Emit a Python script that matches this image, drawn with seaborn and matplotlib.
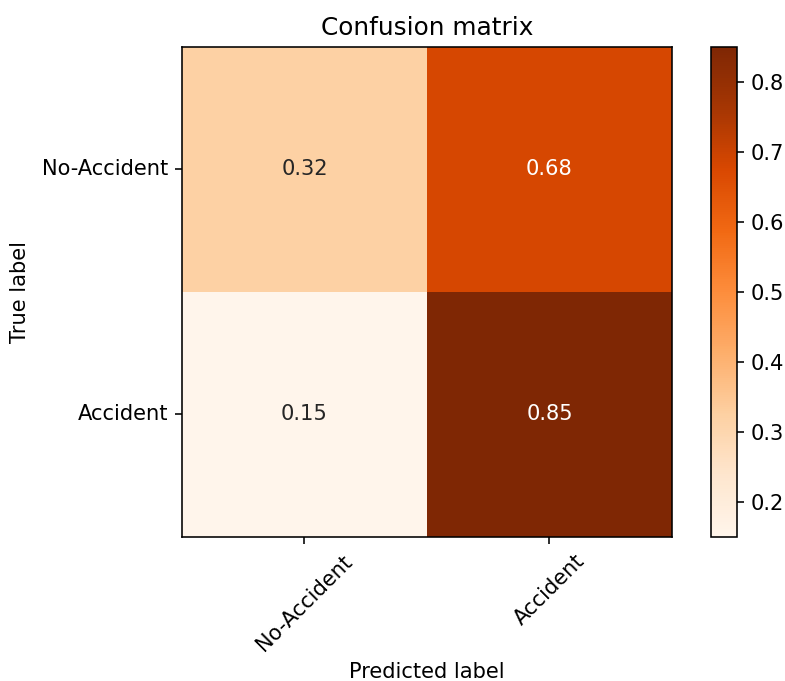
import numpy as np
import pandas as pd
import matplotlib
matplotlib.use("Agg")
import matplotlib.pyplot as plt
import seaborn as sns

# Normalized confusion matrix (rows: true label, columns: predicted label)
classes = ["No-Accident", "Accident"]
row_no_accident = [0.32, 0.68]
row_accident = [0.15, 0.85]

cm = pd.DataFrame([row_no_accident, row_accident], index=classes, columns=classes)

fig = plt.figure(figsize=(785 / 144, 681 / 144), dpi=144)
ax = fig.add_axes([0.2318, 0.2115, 0.6242, 0.7195])
cax = fig.add_axes([0.9057, 0.2115, 0.0331, 0.7195])

fs = 10.5
sns.heatmap(cm, ax=ax, cbar_ax=cax, cmap="Oranges",
            vmin=cm.values.min(), vmax=cm.values.max(),
            annot=True, fmt=".2f", annot_kws={"fontsize": fs},
            square=False, linewidths=0)

for spine in ax.spines.values():
    spine.set_visible(True)
    spine.set_linewidth(0.8)
    spine.set_color("black")

ax.set_title("Confusion matrix", fontsize=12.4, pad=6)
ax.set_ylabel("True label", fontsize=fs, labelpad=6)
ax.set_xlabel("Predicted label", fontsize=fs)
ax.tick_params(axis="both", length=3.5, width=0.8, labelsize=fs)
ax.set_xticklabels(classes, rotation=45, ha="center")
ax.set_yticklabels(classes, rotation=0)

cbar = ax.collections[0].colorbar
cbar.set_ticks([0.2, 0.3, 0.4, 0.5, 0.6, 0.7, 0.8])
cbar.ax.tick_params(labelsize=fs, length=3.5, width=0.8)
cbar.outline.set_visible(True)
cbar.outline.set_linewidth(0.8)
cbar.outline.set_edgecolor("black")

fig.savefig("out.png", dpi=144)
